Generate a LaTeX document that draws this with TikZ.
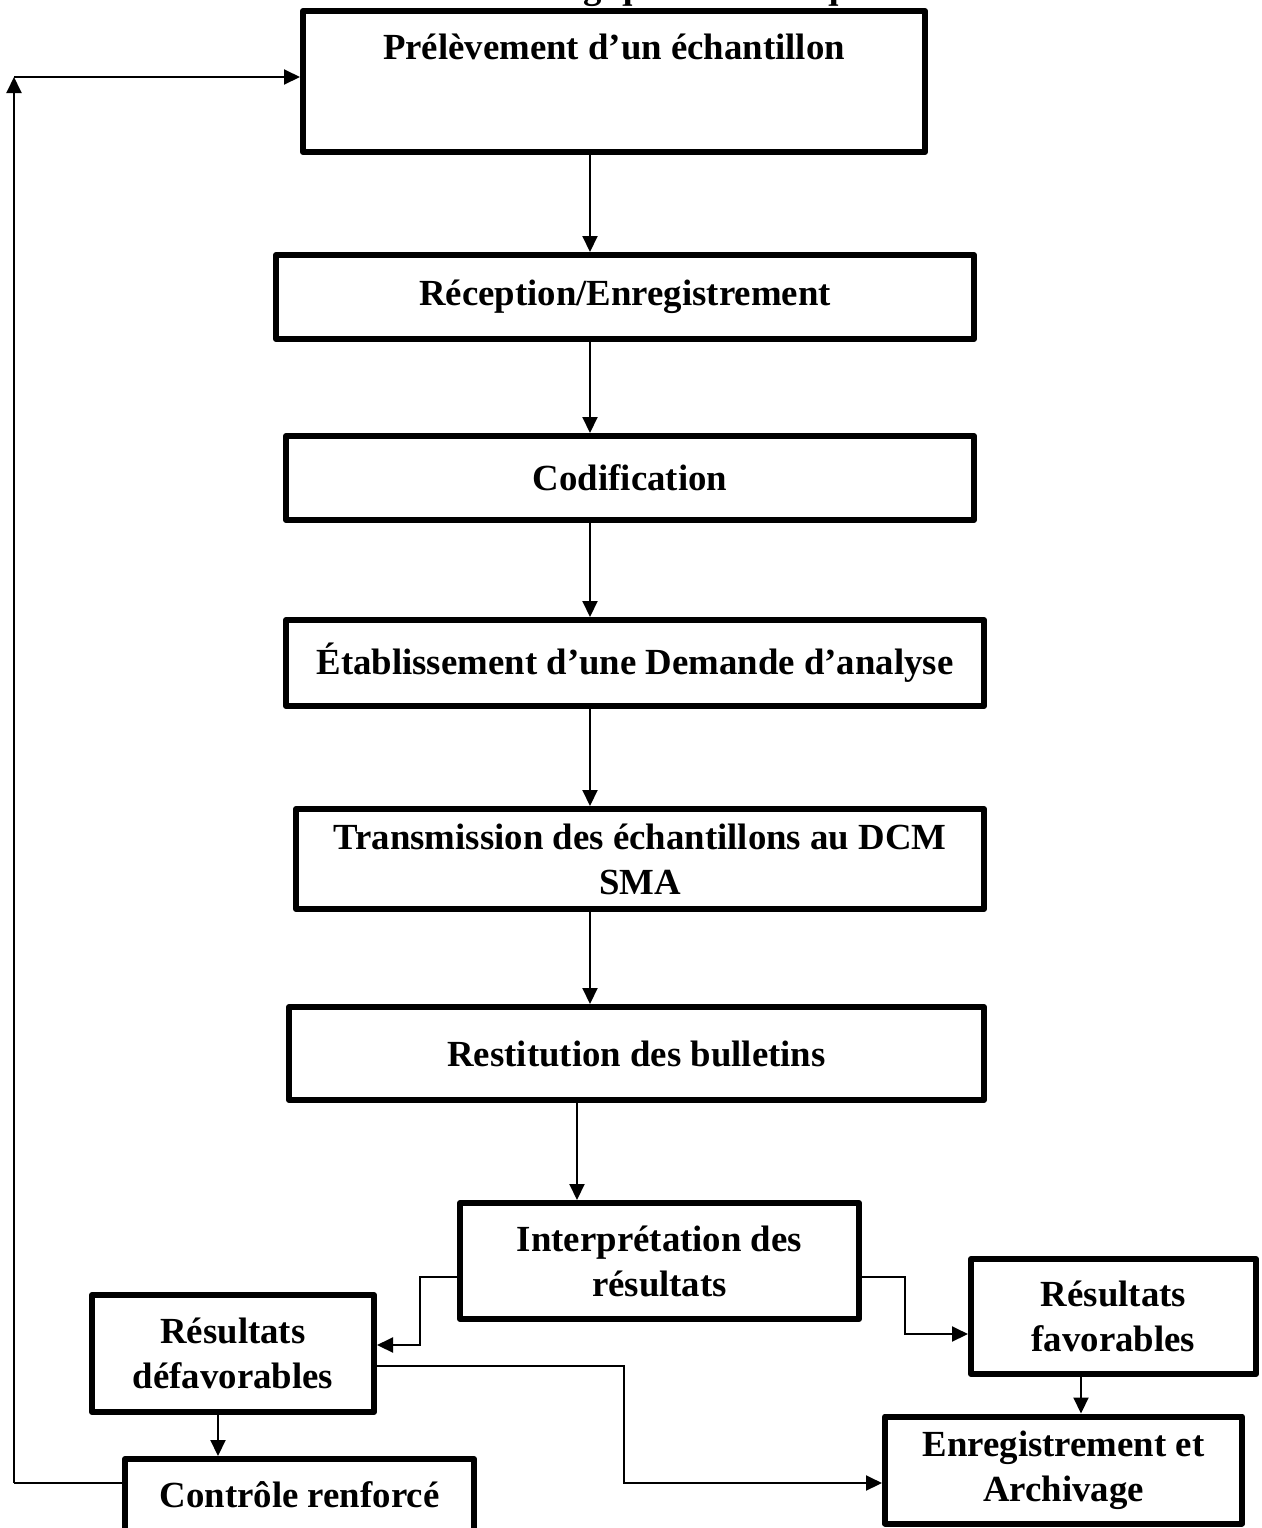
\documentclass[tikz,border=0pt]{standalone}
\usepackage{fontspec}
\setmainfont{Liberation Serif}
\usetikzlibrary{arrows.meta}

\begin{document}
\begin{tikzpicture}[x=0.5pt,y=-0.5pt,>={Triangle[length=8pt,width=7.5pt]},line width=1pt,
	procbox/.style={draw, line width=3pt, line join=round, align=center, inner sep=2pt,
		font=\fontsize{18.4pt}{22.5pt}\selectfont\bfseries}]
	
		\useasboundingbox (0,0) rectangle (1262,1528);
		
		\node (titre)
			[anchor=base, font=\fontsize{18.4pt}{22.5pt}\selectfont\bfseries] at (617,-2) {Contrôles biologiques et chimiques};
		
		\node (prel)
			[procbox, minimum width=311pt, minimum height=70.5pt, text height=13pt, text depth=35.5pt] at (614,81.5) {Prélèvement d’un échantillon};
			\node (recep)
				[procbox, minimum width=349pt, minimum height=42pt] at (625,297) {Réception/Enregistrement};
			\node (codif)
				[procbox, minimum width=344pt, minimum height=42pt] at (630,478) {Codification};
			\node (etab)
				[procbox, minimum width=349pt, minimum height=43pt] at (635,663) {Établissement d’une Demande d’analyse};
			\node (trans)
				[procbox, minimum width=344pt, minimum height=50pt] at (640,859) {Transmission des échantillons au DCM\\SMA};
			\node (restit)
				[procbox, minimum width=347.5pt, minimum height=46.5pt] at (636.5,1053.5) {Restitution des bulletins};
		
		\node (interp)
			[procbox, minimum width=199.5pt, minimum height=58pt] at (659.5,1261) {Interprétation des\\résultats};
			\node (defav)
				[procbox, minimum width=141pt, minimum height=58.5pt] at (233,1353.5) {Résultats\\défavorables};
			\node (fav)
				[procbox, minimum width=142.5pt, minimum height=57.5pt] at (1113.5,1316.5) {Résultats\\favorables};
			\node (archiv)
				[procbox, minimum width=178.5pt, minimum height=53.5pt] at (1063.5,1470) {Enregistrement et\\Archivage};
			\node (ctrl)
				[procbox, minimum width=174.5pt, minimum height=36pt] at (299.5,1495) {Contrôle renforcé};
		
		% columns and corners of the connectors
		\coordinate (colA) at (590,0);
		\coordinate (colB) at (577,0);
		\coordinate (colC) at (218,0);
		\coordinate (colD) at (1081,0);
		\coordinate (coudeG) at (420,1277);
		\coordinate (entreeG) at (0,1345);
		\coordinate (coudeD) at (905,1277);
		\coordinate (entreeF) at (0,1334);
		\coordinate (coudeB) at (624,1366);
		\coordinate (boucle) at (14,1483);
		\coordinate (retour) at (14,77);
		
		\path [->]
		(prel.south -| colA) edge (recep.north -| colA)
		(recep.south -| colA) edge (codif.north -| colA)
		(codif.south -| colA) edge (etab.north -| colA)
		(etab.south -| colA) edge (trans.north -| colA)
		(trans.south -| colA) edge (restit.north -| colA)
		(restit.south -| colB) edge (interp.north -| colB)
		(defav.south -| colC) edge (ctrl.north -| colC)
		(fav.south -| colD) edge (archiv.north -| colD)
		;
		
		\draw [->] (interp.west |- coudeG) -- (coudeG) |- (defav.east |- entreeG);
		\draw [->] (interp.east |- coudeD) -- (coudeD) |- (fav.west |- entreeF);
		\draw [->] (defav.east |- coudeB) -- (coudeB) |- (archiv.west |- boucle);
		%(ctrl) back to the first step
		\draw (ctrl.west |- boucle) -- (boucle);
		\draw [->] (boucle) -- (retour);
		\draw [->] (retour) -- (prel.west |- retour);
	\end{tikzpicture}
\end{document}
